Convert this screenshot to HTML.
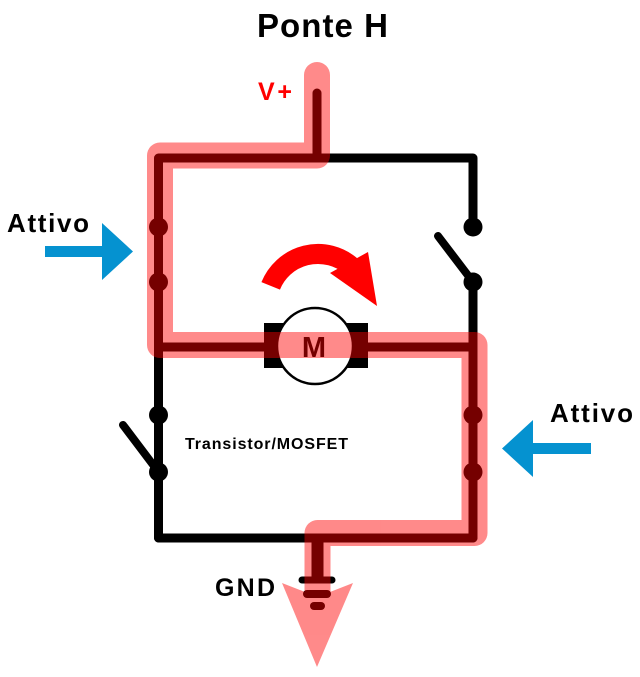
<!DOCTYPE html>
<html>
<head>
<meta charset="utf-8">
<style>
html,body{margin:0;padding:0;background:#fff;}
svg{display:block;}
text{font-family:"Liberation Sans",Arial,sans-serif;font-weight:bold;}
</style>
</head>
<body>
<svg width="640" height="677" viewBox="0 0 640 677" xmlns="http://www.w3.org/2000/svg">
  <!-- Title -->
  <text x="257" y="37" font-size="33" fill="#000" textLength="131" lengthAdjust="spacing">Ponte H</text>
  <text x="258" y="100" font-size="25" fill="#ff0000" textLength="34" lengthAdjust="spacing">V+</text>

  <!-- Wires -->
  <g stroke="#000" stroke-width="9" fill="none" stroke-linecap="round" stroke-linejoin="round">
    <line x1="317" y1="93" x2="317" y2="158"/>
    <polyline points="158.5,538 158.5,158 473,158 473,227"/>
    <line x1="158.5" y1="347" x2="473" y2="347"/>
    <line x1="158.5" y1="347" x2="158.5" y2="415"/>
    <line x1="473" y1="282" x2="473" y2="538"/>
    <line x1="158.5" y1="538" x2="473" y2="538"/>
    <!-- switch arms -->
    <line x1="438" y1="236" x2="473" y2="282" stroke-width="8"/>
    <line x1="123" y1="425" x2="158.5" y2="472" stroke-width="8"/>
  </g>
  <!-- GND stub and bars -->
  <line x1="317.5" y1="538" x2="317.5" y2="580" stroke="#000" stroke-width="12"/>
  <g stroke="#000" stroke-linecap="round">
    <line x1="302" y1="580" x2="332" y2="580" stroke-width="7"/>
    <line x1="307" y1="594" x2="327" y2="594" stroke-width="8"/>
    <line x1="314" y1="606" x2="321" y2="606" stroke-width="8"/>
  </g>
  <!-- dots -->
  <g fill="#000">
    <circle cx="158.5" cy="227" r="9.5"/>
    <circle cx="158.5" cy="282" r="9.5"/>
    <circle cx="473" cy="227" r="9.5"/>
    <circle cx="473" cy="282" r="9.5"/>
    <circle cx="158.5" cy="415" r="9.5"/>
    <circle cx="158.5" cy="472" r="9.5"/>
    <circle cx="473" cy="415" r="9.5"/>
    <circle cx="473" cy="472" r="9.5"/>
  </g>

  <!-- Motor -->
  <rect x="264" y="323" width="104" height="45" fill="#000"/>
  <circle cx="315" cy="346" r="38" fill="#fff" stroke="#000" stroke-width="2.5"/>
  <text x="314" y="357" font-size="29" fill="#000" text-anchor="middle">M</text>

  <!-- Rotation arrow -->
  <path d="M270.7,285.9 A51,51 0 0 1 350.8,265.9" fill="none" stroke="#ff0000" stroke-width="20"/>
  <polygon points="330,273 368,252 377,306" fill="#ff0000"/>

  <!-- Labels -->
  <text x="185" y="449" font-size="16" fill="#000" textLength="163" lengthAdjust="spacing">Transistor/MOSFET</text>
  <text x="215" y="596" font-size="25" fill="#000" textLength="60" lengthAdjust="spacing">GND</text>
  <text x="7" y="232" font-size="26" fill="#000" textLength="82" lengthAdjust="spacing">Attivo</text>
  <text x="550" y="422" font-size="26" fill="#000" textLength="83" lengthAdjust="spacing">Attivo</text>

  <!-- Blue arrows -->
  <polygon points="45,246 102,246 102,223 133,251.5 102,280 102,257 45,257" fill="#0592d0"/>
  <polygon points="591,443 533,443 533,420 502,448.5 533,477 533,454 591,454" fill="#0592d0"/>

  <!-- Current path highlight -->
  <g opacity="0.46">
    <path d="M317,75 L317,155.5 L160,155.5 L160,345 L474.5,345 L474.5,533 L317.5,533 L317.5,592" fill="none" stroke="#ff0000" stroke-width="26" stroke-linecap="round" stroke-linejoin="round"/>
    <polygon points="282,583 305,592 330,592 353,583 317,667" fill="#ff0000"/>
  </g>
</svg>
</body>
</html>
